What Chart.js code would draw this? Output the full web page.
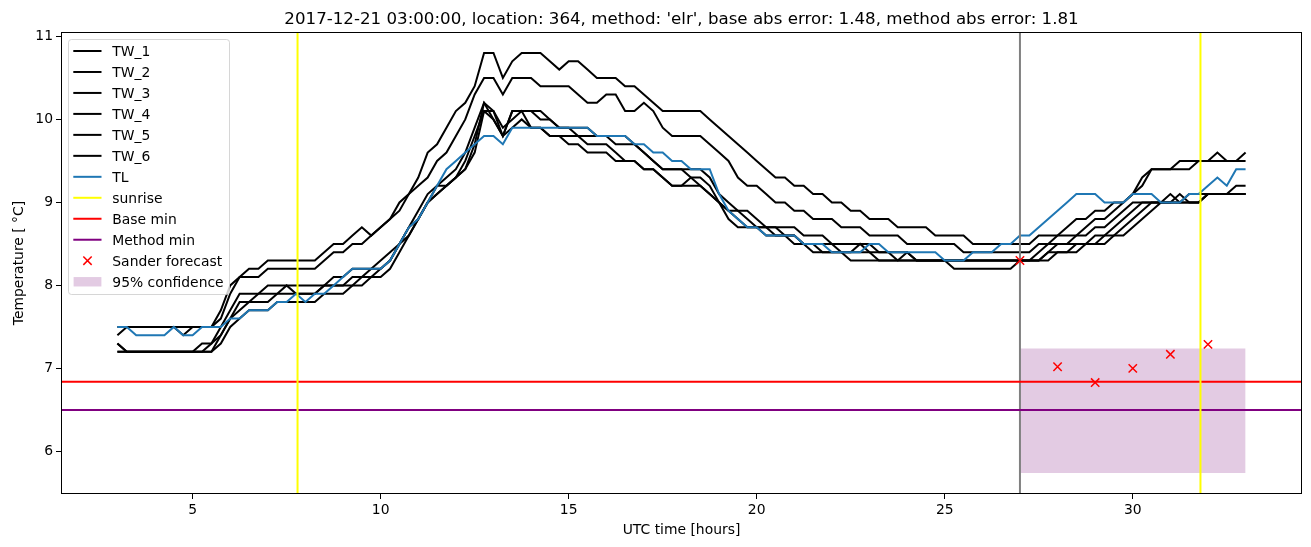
<!DOCTYPE html>
<html>
<head>
<meta charset="utf-8">
<script src="https://cdn.jsdelivr.net/npm/chart.js@4.4.1/dist/chart.umd.min.js"></script>
<style>
  html, body { margin: 0; padding: 0; background: #fff; }
  #wrap { width: 1311px; height: 547px; position: relative; }
</style>
</head>
<body>
<div id="wrap"><canvas id="tempChart"></canvas></div>
<script>
// time axis: quarter-hour samples from 03:00 to 33:00 (UTC hours)
var timeStart = 3;
var timeStep = 0.25;

// one row per hour: values at :00, :15, :30, :45
var tw1 = [
  7.5, 7.5, 7.5, 7.5,   7.5, 7.5, 7.5, 7.5,   7.5, 7.5, 7.5, 7.7,   8.0, 8.1, 8.2, 8.2,
  8.3, 8.3, 8.3, 8.3,   8.3, 8.3, 8.4, 8.5,   8.5, 8.6, 8.7, 8.6,   8.7, 8.8, 9.0, 9.1,
  9.3, 9.6, 9.7, 9.9,   10.1, 10.2, 10.4, 10.8, 10.8, 10.5, 10.7, 10.8, 10.8, 10.8, 10.7, 10.6,
  10.7, 10.7, 10.6, 10.5, 10.5, 10.5, 10.4, 10.4, 10.3, 10.2, 10.1, 10.1, 10.1, 10.1, 10.1, 10.0,
  9.9, 9.8, 9.7, 9.6,   9.5, 9.4, 9.3, 9.3,   9.2, 9.2, 9.1, 9.1,   9.0, 9.0, 8.9, 8.9,
  8.8, 8.8, 8.8, 8.7,   8.7, 8.7, 8.7, 8.6,   8.6, 8.6, 8.6, 8.5,   8.5, 8.5, 8.5, 8.5,
  8.5, 8.5, 8.6, 8.6,   8.6, 8.7, 8.8, 8.8,   8.9, 8.9, 9.0, 9.0,   9.1, 9.3, 9.4, 9.4,
  9.4, 9.5, 9.5, 9.5,   9.5, 9.6, 9.5, 9.5,   9.6
];
var tw2 = [
  7.4, 7.5, 7.5, 7.5,   7.5, 7.5, 7.5, 7.4,   7.5, 7.5, 7.5, 7.6,   7.9, 8.1, 8.1, 8.1,
  8.2, 8.2, 8.2, 8.2,   8.2, 8.2, 8.3, 8.4,   8.4, 8.5, 8.5, 8.6,   8.7, 8.8, 8.9, 9.1,
  9.2, 9.3, 9.5, 9.6,   9.8, 10.0, 10.3, 10.5, 10.5, 10.3, 10.5, 10.5, 10.5, 10.4, 10.4, 10.4,
  10.4, 10.3, 10.2, 10.2, 10.3, 10.3, 10.1, 10.1, 10.2, 10.1, 9.9, 9.8, 9.8, 9.8, 9.8, 9.7,
  9.6, 9.5, 9.3, 9.2,   9.2, 9.1, 9.0, 9.0,   8.9, 8.9, 8.8, 8.8,   8.8, 8.7, 8.7, 8.7,
  8.6, 8.6, 8.6, 8.6,   8.5, 8.5, 8.5, 8.5,   8.5, 8.5, 8.4, 8.4,   8.4, 8.4, 8.4, 8.4,
  8.4, 8.4, 8.5, 8.5,   8.6, 8.6, 8.6, 8.7,   8.8, 8.8, 8.9, 9.0,   9.1, 9.2, 9.4, 9.4,
  9.4, 9.4, 9.4, 9.5,   9.5, 9.5, 9.5, 9.5,   9.5
];
var tw3 = [
  7.3, 7.2, 7.2, 7.2,   7.2, 7.2, 7.2, 7.2,   7.2, 7.2, 7.3, 7.5,   7.7, 7.9, 7.9, 7.9,
  8.0, 8.0, 8.0, 8.0,   8.0, 8.0, 8.0, 8.1,   8.1, 8.2, 8.2, 8.2,   8.3, 8.4, 8.5, 8.7,
  8.9, 9.1, 9.2, 9.3,   9.4, 9.6, 9.9, 10.2,  10.0, 9.8, 10.1, 10.1, 10.1, 10.0, 10.0, 9.9,
  9.9, 9.9, 9.9, 9.8,   9.8, 9.8, 9.8, 9.7,   9.6, 9.5, 9.4, 9.4,   9.4, 9.4, 9.4, 9.3,
  9.1, 9.0, 8.9, 8.9,   8.8, 8.7, 8.7, 8.7,   8.7, 8.6, 8.6, 8.6,   8.5, 8.5, 8.5, 8.5,
  8.5, 8.4, 8.4, 8.4,   8.4, 8.3, 8.3, 8.3,   8.3, 8.3, 8.3, 8.3,   8.3, 8.3, 8.3, 8.3,
  8.3, 8.3, 8.4, 8.5,   8.5, 8.5, 8.6, 8.6,   8.7, 8.7, 8.8, 8.9,   9.0, 9.0, 9.0, 9.0,
  9.1, 9.0, 9.1, 9.1,   9.1, 9.1, 9.1, 9.2,   9.2
];
var tw4 = [
  7.2, 7.2, 7.2, 7.2,   7.2, 7.2, 7.2, 7.2,   7.2, 7.2, 7.2, 7.4,   7.6, 7.8, 7.8, 7.9,
  7.9, 7.9, 8.0, 7.9,   7.9, 7.9, 8.0, 8.0,   8.0, 8.1, 8.1, 8.2,   8.2, 8.3, 8.5, 8.7,
  8.8, 9.0, 9.2, 9.2,   9.3, 9.5, 9.8, 10.1,  10.1, 9.9, 10.0, 10.1, 9.9, 9.9, 9.8, 9.8,
  9.8, 9.8, 9.7, 9.7,   9.7, 9.6, 9.5, 9.5,   9.4, 9.4, 9.3, 9.2,   9.2, 9.2, 9.2, 9.1,
  9.0, 8.9, 8.9, 8.8,   8.7, 8.7, 8.7, 8.6,   8.6, 8.5, 8.5, 8.5,   8.5, 8.4, 8.4, 8.5,
  8.4, 8.4, 8.4, 8.3,   8.3, 8.3, 8.3, 8.3,   8.3, 8.3, 8.3, 8.3,   8.3, 8.3, 8.3, 8.3,
  8.3, 8.3, 8.3, 8.4,   8.5, 8.5, 8.5, 8.5,   8.6, 8.6, 8.7, 8.8,   8.9, 9.0, 9.0, 9.0,
  9.0, 9.0, 9.0, 9.0,   9.1, 9.1, 9.1, 9.1,   9.1
];
var tw5 = [
  7.2, 7.2, 7.2, 7.2,   7.2, 7.2, 7.2, 7.2,   7.2, 7.3, 7.3, 7.4,   7.6, 7.7, 7.8, 7.8,
  7.8, 7.9, 7.9, 7.9,   7.9, 7.9, 8.0, 8.0,   8.0, 8.0, 8.1, 8.1,   8.2, 8.3, 8.5, 8.6,
  8.8, 9.0, 9.1, 9.2,   9.3, 9.4, 9.7, 10.2,  10.1, 9.8, 10.1, 10.1, 10.1, 10.1, 10.0, 9.9,
  9.9, 9.8, 9.8, 9.8,   9.8, 9.7, 9.7, 9.7,   9.6, 9.5, 9.4, 9.4,   9.4, 9.3, 9.3, 9.2,
  9.0, 8.9, 8.8, 8.7,   8.7, 8.7, 8.6, 8.6,   8.6, 8.5, 8.5, 8.4,   8.4, 8.4, 8.4, 8.4,
  8.4, 8.3, 8.3, 8.3,   8.4, 8.3, 8.3, 8.3,   8.3, 8.3, 8.3, 8.3,   8.3, 8.3, 8.3, 8.3,
  8.3, 8.3, 8.3, 8.3,   8.4, 8.4, 8.5, 8.5,   8.5, 8.6, 8.6, 8.7,   8.8, 8.9, 9.0, 9.0,
  9.0, 9.1, 9.0, 9.0,   9.1, 9.1, 9.1, 9.1,   9.1
];
var tw6 = [
  7.3, 7.2, 7.2, 7.2,   7.2, 7.2, 7.2, 7.2,   7.2, 7.2, 7.2, 7.3,   7.5, 7.6, 7.7, 7.7,
  7.7, 7.8, 7.8, 7.8,   7.8, 7.8, 7.9, 7.9,   7.9, 8.0, 8.0, 8.1,   8.1, 8.2, 8.4, 8.6,
  8.8, 9.0, 9.1, 9.2,   9.3, 9.4, 9.6, 10.1,  10.0, 9.8, 9.9, 10.0,  9.9, 9.9, 9.8, 9.8,
  9.7, 9.7, 9.6, 9.6,   9.6, 9.5, 9.5, 9.5,   9.4, 9.4, 9.3, 9.2,   9.2, 9.3, 9.2, 9.1,
  9.0, 8.8, 8.7, 8.7,   8.7, 8.6, 8.6, 8.6,   8.5, 8.5, 8.4, 8.4,   8.4, 8.4, 8.3, 8.3,
  8.3, 8.3, 8.3, 8.3,   8.3, 8.3, 8.3, 8.3,   8.3, 8.2, 8.2, 8.2,   8.2, 8.2, 8.2, 8.2,
  8.3, 8.3, 8.3, 8.4,   8.4, 8.4, 8.4, 8.5,   8.5, 8.5, 8.6, 8.6,   8.7, 8.8, 8.9, 9.0,
  9.0, 9.0, 9.0, 9.0,   9.1, 9.1, 9.1, 9.1,   9.1
];
var tl = [
  7.5, 7.5, 7.4, 7.4,   7.4, 7.4, 7.5, 7.4,   7.4, 7.5, 7.5, 7.5,   7.6, 7.6, 7.7, 7.7,
  7.7, 7.8, 7.8, 7.9,   7.8, 7.9, 7.9, 8.0,   8.1, 8.2, 8.2, 8.2,   8.2, 8.3, 8.5, 8.7,
  8.8, 9.0, 9.2, 9.4,   9.5, 9.6, 9.7, 9.8,   9.8, 9.7, 9.9, 9.9,   9.9, 9.9, 9.9, 9.9,
  9.9, 9.9, 9.9, 9.8,   9.8, 9.8, 9.8, 9.7,   9.7, 9.6, 9.6, 9.5,   9.5, 9.4, 9.4, 9.4,
  9.1, 8.9, 8.8, 8.7,   8.7, 8.6, 8.6, 8.6,   8.6, 8.5, 8.5, 8.5,   8.4, 8.4, 8.4, 8.4,
  8.5, 8.5, 8.4, 8.4,   8.4, 8.4, 8.4, 8.4,   8.3, 8.3, 8.3, 8.4,   8.4, 8.4, 8.5, 8.5,
  8.6, 8.6, 8.7, 8.8,   8.9, 9.0, 9.1, 9.1,   9.1, 9.0, 9.0, 9.0,   9.1, 9.1, 9.1, 9.0,
  9.0, 9.0, 9.1, 9.1,   9.2, 9.3, 9.2, 9.4,   9.4
];

var twLabels = ['TW_1', 'TW_2', 'TW_3', 'TW_4', 'TW_5', 'TW_6'];

// reference lines and forecast
var sunriseHours = [7.79, 31.8];
var forecastStartHour = 27;
var baseMin = 6.84;
var methodMin = 6.50;
var forecastHours = [27, 28, 29, 30, 31, 32];
var forecastTemps = [8.30, 7.02, 6.83, 7.00, 7.17, 7.29];
var confidenceHours = [27, 33];
var confidenceLow = 5.74;
var confidenceHigh = 7.24;

// axes
var xAxisMin = 1.5, xAxisMax = 34.5;
var yAxisMin = 5.487, yAxisMax = 11.053;
var xTickValues = [5, 10, 15, 20, 25, 30];
var yTickValues = [6, 7, 8, 9, 10, 11];

var titleText = "2017-12-21 03:00:00, location: 364, method: 'elr', base abs error: 1.48, method abs error: 1.81";

(function() {
  var fontFamily = "'DejaVu Sans', 'Liberation Sans', sans-serif";
  var fs = 13.9;
  var tlColor = '#1f77b4';
  var bandColor = '#e3cbe3';

  Chart.defaults.font.family = fontFamily;
  Chart.defaults.color = '#000';

  function series(values) {
    return values.map(function(v, i) { return { x: timeStart + i * timeStep, y: v }; });
  }

  var datasets = [];
  [tw1, tw2, tw3, tw4, tw5, tw6].forEach(function(vals, i) {
    datasets.push({
      label: twLabels[i], data: series(vals), borderColor: '#000', borderWidth: 2,
      pointRadius: 0, tension: 0, order: 6, legendKind: 'line'
    });
  });
  datasets.push({
    label: 'TL', data: series(tl), borderColor: tlColor, borderWidth: 2,
    pointRadius: 0, tension: 0, order: 5, legendKind: 'line'
  });
  var sunData = [];
  sunriseHours.forEach(function(h) {
    sunData.push({ x: h, y: yAxisMin }, { x: h, y: yAxisMax }, { x: h, y: null });
  });
  datasets.push({
    label: 'sunrise', data: sunData, borderColor: '#ffff00', borderWidth: 2,
    pointRadius: 0, spanGaps: false, order: 4, legendKind: 'line'
  });
  datasets.push({
    label: 'Base min', data: [{ x: xAxisMin, y: baseMin }, { x: xAxisMax, y: baseMin }],
    borderColor: '#ff0000', borderWidth: 2, pointRadius: 0, order: 4, legendKind: 'line'
  });
  datasets.push({
    label: 'Method min', data: [{ x: xAxisMin, y: methodMin }, { x: xAxisMax, y: methodMin }],
    borderColor: '#800080', borderWidth: 2, pointRadius: 0, order: 4, legendKind: 'line'
  });
  datasets.push({
    label: 'Sander forecast',
    data: forecastHours.map(function(h, i) { return { x: h, y: forecastTemps[i] }; }),
    showLine: false, pointStyle: 'crossRot', pointRadius: 5.9, pointBorderWidth: 1.5,
    borderColor: '#ff0000', backgroundColor: '#ff0000', order: 1, legendKind: 'marker'
  });
  datasets.push({
    label: '95% confidence',
    data: confidenceHours.map(function(h) { return { x: h, y: confidenceHigh }; }),
    fill: { value: confidenceLow }, backgroundColor: bandColor, borderColor: 'transparent',
    borderWidth: 0, pointRadius: 0, order: 20, legendKind: 'patch'
  });
  datasets.push({
    label: '', data: [{ x: forecastStartHour, y: yAxisMin }, { x: forecastStartHour, y: yAxisMax }],
    borderColor: '#808080', borderWidth: 2, pointRadius: 0, order: 4, legendKind: null
  });

  /* Plugin: title, axes box and legend drawn matplotlib style */
  var frameLegendPlugin = {
    id: 'frameLegend',
    afterDatasetsDraw: function(chart) {
      var c = chart.ctx;
      var a = chart.chartArea;
      c.save();
      // axes box
      c.strokeStyle = '#000';
      c.lineWidth = 1;
      c.strokeRect(Math.round(a.left) + 0.5, Math.round(a.top) + 0.5,
                   Math.round(a.right - a.left) - 1, Math.round(a.bottom - a.top) - 1);
      // title
      c.fillStyle = '#000';
      c.font = '16.67px ' + fontFamily;
      c.textAlign = 'center';
      c.textBaseline = 'alphabetic';
      c.fillText(titleText, (a.left + a.right) / 2, 23.5);

      // legend
      var items = chart.data.datasets.filter(function(d) { return d.legendKind; });
      var boxX = 68.5, boxY = 39.5, boxW = 161, boxH = 255, r = 3;
      c.beginPath();
      c.moveTo(boxX + r, boxY);
      c.arcTo(boxX + boxW, boxY, boxX + boxW, boxY + boxH, r);
      c.arcTo(boxX + boxW, boxY + boxH, boxX, boxY + boxH, r);
      c.arcTo(boxX, boxY + boxH, boxX, boxY, r);
      c.arcTo(boxX, boxY, boxX + boxW, boxY, r);
      c.closePath();
      c.fillStyle = 'rgba(255,255,255,0.8)';
      c.fill();
      c.strokeStyle = 'rgba(204,204,204,0.8)';
      c.lineWidth = 1;
      c.stroke();

      c.font = fs + 'px ' + fontFamily;
      c.textAlign = 'left';
      items.forEach(function(d, i) {
        var y = 51 + i * 20.97;
        if (d.legendKind === 'line') {
          c.strokeStyle = d.borderColor;
          c.lineWidth = d.borderWidth;
          c.beginPath();
          c.moveTo(73.3, y);
          c.lineTo(101.5, y);
          c.stroke();
        } else if (d.legendKind === 'marker') {
          c.strokeStyle = d.borderColor;
          c.lineWidth = d.pointBorderWidth;
          var o = d.pointRadius * Math.SQRT1_2;
          c.beginPath();
          c.moveTo(87.5 - o, y - o); c.lineTo(87.5 + o, y + o);
          c.moveTo(87.5 + o, y - o); c.lineTo(87.5 - o, y + o);
          c.stroke();
        } else if (d.legendKind === 'patch') {
          c.fillStyle = d.backgroundColor;
          c.fillRect(73.6, y - 4.6, 27.8, 9.4);
        }
        c.fillStyle = '#000';
        c.fillText(d.label, 112.3, y + 5);
      });
      c.restore();
    }
  };

  var axisFont = { family: fontFamily, size: fs };

  new Chart(document.getElementById('tempChart'), {
    type: 'line',
    data: { datasets: datasets },
    options: {
      responsive: true,
      maintainAspectRatio: false,
      devicePixelRatio: 1,
      animation: false,
      events: [],
      layout: { padding: { left: 0, right: 9, top: 32, bottom: 0 } },
      plugins: {
        legend: { display: false },
        title: { display: false },
        tooltip: { enabled: false }
      },
      scales: {
        x: {
          type: 'linear',
          min: xAxisMin,
          max: xAxisMax,
          afterBuildTicks: function(axis) {
            axis.ticks = xTickValues.map(function(v) { return { value: v }; });
          },
          grid: { drawOnChartArea: false, drawTicks: true, tickLength: 5, tickColor: '#000', tickWidth: 1 },
          border: { display: false },
          ticks: { color: '#000', font: axisFont, padding: 3, maxRotation: 0, autoSkip: false },
          title: { display: true, text: 'UTC time [hours]', color: '#000', font: axisFont, padding: { top: 8.5, bottom: 8.5 } },
          afterFit: function(axis) { axis.height = 53; }
        },
        y: {
          type: 'linear',
          min: yAxisMin,
          max: yAxisMax,
          afterBuildTicks: function(axis) {
            axis.ticks = yTickValues.map(function(v) { return { value: v }; });
          },
          grid: { drawOnChartArea: false, drawTicks: true, tickLength: 5, tickColor: '#000', tickWidth: 1 },
          border: { display: false },
          ticks: { color: '#000', font: axisFont, padding: 3, autoSkip: false },
          title: { display: true, text: 'Temperature [ \u00b0C]', color: '#000', font: axisFont, padding: { top: 11.5, bottom: 11.5 } },
          afterFit: function(axis) { axis.width = 61; }
        }
      }
    },
    plugins: [frameLegendPlugin]
  });
})();
</script>
</body>
</html>
